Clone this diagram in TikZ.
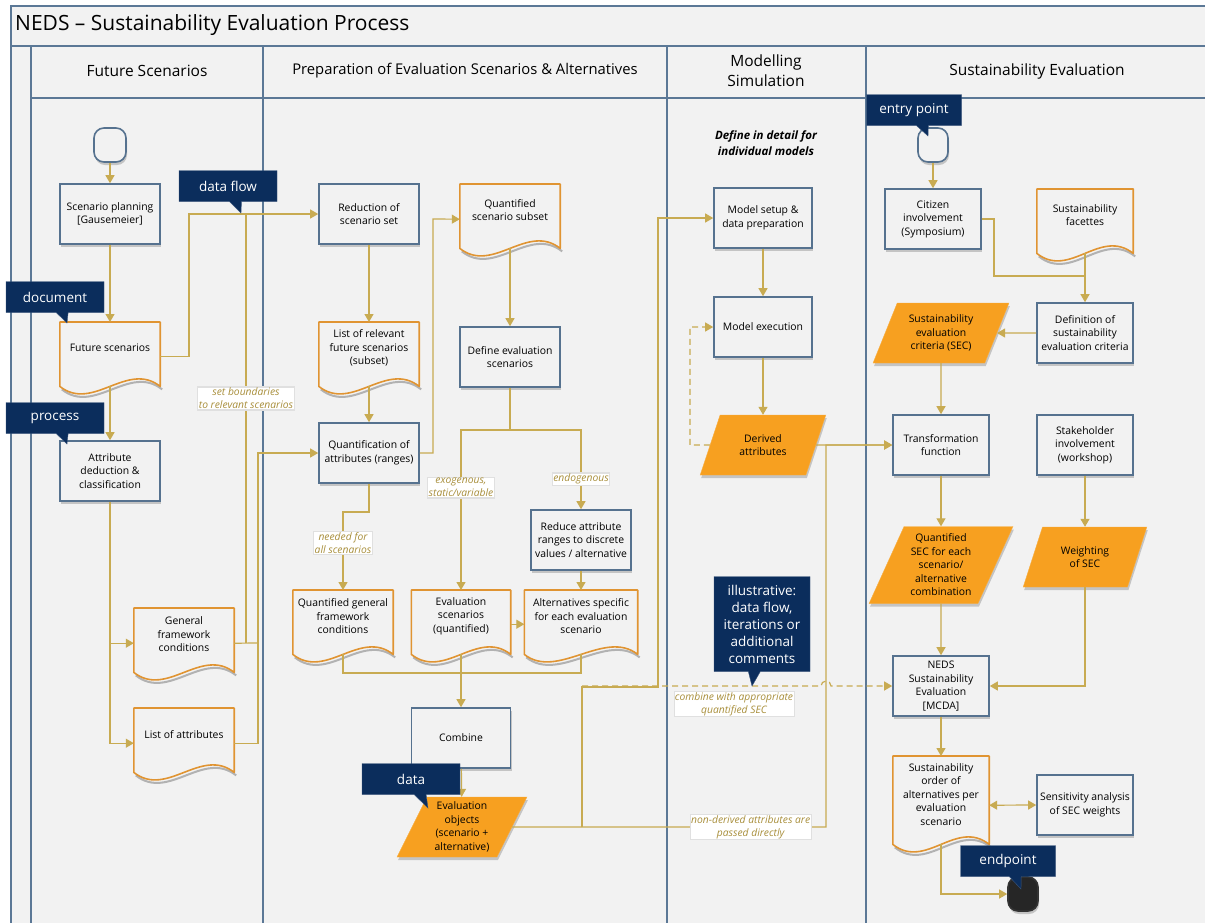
\documentclass[tikz,border=0pt]{standalone}
\usepackage{fontspec}
\setmainfont{Open Sans}
\usetikzlibrary{arrows.meta,positioning,shapes.geometric,shapes.callouts,shadows}

\definecolor{bgc}{HTML}{F2F2F2}
\definecolor{lanec}{HTML}{5B7896}
\definecolor{boxc}{HTML}{56728F}
\definecolor{docc}{HTML}{E09432}
\definecolor{parac}{HTML}{F7A020}
\definecolor{navyc}{HTML}{0B2D5C}
\definecolor{goldc}{HTML}{C8AB52}
\definecolor{labc}{HTML}{A88E3A}

\begin{document}
\begin{tikzpicture}[x=1pt,y=-1pt,>={Triangle[length=8pt,width=9pt]},
  every node/.style={font=\fontsize{10.4}{13.5}\selectfont,align=center,inner sep=2pt},
  lane/.style={draw=lanec,line width=2pt},
  box/.style={rectangle,draw=boxc,line width=1.6pt,fill=bgc,minimum width=98,minimum height=60,
    drop shadow={shadow xshift=1pt,shadow yshift=-3pt,opacity=.4}},
  docu/.style={rectangle,minimum width=#1,minimum height=52,anchor=north},
  docu/.default=100,
  docline/.style={draw=docc,line width=1.6pt,line join=round},
  docshadow/.style={draw=black!30,line width=2pt},
  para/.style={trapezium,trapezium left angle=65,trapezium right angle=115,trapezium stretches=true,
    fill=parac,draw=parac!85!white,minimum width=#1,minimum height=60,
    drop shadow={shadow xshift=1pt,shadow yshift=-3pt,opacity=.4}},
  term/.style={rectangle,rounded corners=10pt,draw=boxc,line width=1.6pt,fill=bgc,minimum width=32,minimum height=34,
    drop shadow={shadow xshift=1pt,shadow yshift=-3pt,opacity=.4}},
  callme/.style={rectangle callout,fill=navyc,draw=navyc!80!white,text=white,font=\fontsize{13.5}{17}\selectfont,
    minimum width=98,minimum height=31,callout pointer width=12pt},
  lbl/.style={fill=white,draw=black!12,text=labc,font=\itshape\fontsize{10.3}{13}\selectfont,inner sep=1pt},
  hdr/.style={font=\fontsize{15.5}{20}\selectfont},
  flow/.style={draw=goldc,line width=1.2pt},
  iter/.style={flow,dash pattern=on 6pt off 4pt}]

\clip (0,0) rectangle (1205,922);
\fill[white] (0,0) rectangle (1205,922);
\fill[bgc] (11,6) rectangle (1215,930);

% swimlanes
\draw[lane] (11,930) -- (11,6) -- (1215,6);
\draw[lane] (11,46) -- (1215,46);
\draw[lane] (31,98) -- (1215,98);
\foreach \x in {31,263,667,866}
  \draw[lane] (\x,46) -- (\x,930);
\node[anchor=west,font=\fontsize{21}{24}\selectfont] (title) at (13,25) {NEDS -- Sustainability Evaluation Process};
\node[hdr] (hfut) at (147,71) {Future Scenarios};
\node[hdr,font=\fontsize{14.8}{20}\selectfont] (hprep) at (465,71) {Preparation of Evaluation Scenarios \& Alternatives};
\node[hdr] (hmod) at (766,71) {Modelling\\Simulation};
\node[hdr] (hsus) at (1037,71) {Sustainability Evaluation};

% future scenarios
\node[term] (start1) at (110,145) {};
\node[box,minimum width=100] (scenplan) at (110,214) {Scenario planning\\{[Gausemeier]}};
\node[docu] (futscen) at (110,322) {Future scenarios};
\node[box,minimum width=100] (attrded) at (110,471) {Attribute\\deduction \&\\classification};
\node[docu] (genfw) at (184,608) {General\\framework\\conditions};
\node[docu] (listattr) at (184,708) {List of attributes};

% preparation
\node[box,minimum width=100] (reduction) at (369,214) {Reduction of\\scenario set};
\node[docu] (listrel) at (369,322) {List of relevant\\future scenarios\\(subset)};
\node[box,minimum width=100] (quantattr) at (369,453) {Quantification of\\attributes (ranges)};
\node[docu] (quantsub) at (510,184) {Quantified\\scenario subset};
\node[box,minimum width=100] (defeval) at (510,357) {Define evaluation\\scenarios};
\node[box,minimum width=100] (reduceattr) at (581,540) {Reduce attribute\\ranges to discrete\\values / alternative};
\node[docu] (qgfc) at (343,590) {Quantified general\\framework\\conditions};
\node[docu=99] (evalscen) at (461,590) {Evaluation\\scenarios\\(quantified)};
\node[docu=113] (altspec) at (581,590) {Alternatives specific\\for each evaluation\\scenario};
\node[box,minimum width=99] (combine) at (461,738) {Combine};
\node[para=130] (evalobj) at (462,827) {Evaluation\\objects\\(scenario +\\alternative)};

% modelling
\node[font=\bfseries\itshape\fontsize{11.5}{16}\selectfont] (mdetail) at (766,143) {Define in detail for\\individual models};
\node[box] (modsetup) at (763,218) {Model setup \&\\data preparation};
\node[box] (modexec) at (763,327) {Model execution};
\node[para=126] (derived) at (763,445) {Derived\\attributes};

% sustainability evaluation
\node[term,minimum width=30] (start2) at (933,145) {};
\node[box,minimum width=96] (citizen) at (933,219) {Citizen\\involvement\\(Symposium)};
\node[docu=96] (facettes) at (1085,189) {Sustainability\\facettes};
\node[box,minimum width=96] (defcrit) at (1085,333) {Definition of\\sustainability\\evaluation criteria};
\node[para=136] (sec) at (941,333) {Sustainability\\evaluation\\criteria (SEC)};
\node[box,minimum width=96] (transf) at (941,445) {Transformation\\function};
\node[box,minimum width=96] (stakeh) at (1085,445) {Stakeholder\\involvement\\(workshop)};
\node[para=144,minimum height=77] (qsec) at (941,565) {Quantified\\SEC for each\\scenario/\\alternative\\combination};
\node[para=124] (weight) at (1085,557) {Weighting\\of SEC};
\node[box,minimum width=96] (mcda) at (941,686) {NEDS\\Sustainability\\Evaluation\\{[MCDA]}};
\node[docu=96,minimum height=76] (order) at (941,756) {Sustainability\\order of\\alternatives per\\evaluation\\scenario};
\node[box,minimum width=96] (sens) at (1085,805) {Sensitivity analysis\\of SEC weights};
\node[term,minimum width=30,fill=black!85,draw=black!80] (endpt) at (1023,894) {};

% document outlines
\foreach \doc in {futscen,genfw,listattr,listrel,quantsub,qgfc,evalscen,altspec,facettes,order}{
  \draw[docshadow] ([xshift=2pt,yshift=-15pt]\doc.south east) .. controls +(-33,-26) and +(33,26) .. ([xshift=2pt,yshift=-15pt]\doc.south west);
  \draw[docline] (\doc.north west) -- (\doc.north east) -- ([yshift=-12pt]\doc.south east)
    .. controls +(-33,-26) and +(33,26) .. ([yshift=-12pt]\doc.south west) -- cycle;
}

% connectors
\draw[flow,->] (start1) -- (scenplan);
\draw[flow,->] (scenplan) -- (futscen);
\draw[flow,->] ([yshift=-12pt]futscen.south) -- (attrded);
\draw[flow,->] ([yshift=-8pt]futscen.east) -| (189,214) -- (reduction.west);
\draw[flow,->] (attrded) |- ([yshift=-9pt]genfw.west);
\draw[flow,->] (attrded) |- ([yshift=-9pt]listattr.west);
\draw[flow] ([yshift=-9pt]genfw.east) -- (258,643);
\draw[flow] (246,643) -- node[lbl,pos=0.57] {set boundaries\\to relevant scenarios} (246,214);
\draw[flow,->] ([yshift=-9pt]listattr.east) -| (258,453) -- (quantattr.west);
\draw[flow,->] (reduction) -- (listrel);
\draw[flow,->] ([yshift=-12pt]listrel.south) -- (quantattr);
\draw[flow,->] (quantattr.east) -| (433,219) -- ([yshift=-9pt]quantsub.west);
\draw[flow,->] ([yshift=-12pt]quantsub.south) -- (defeval);
\draw[flow] (defeval.south) -- (510,430) coordinate (split);
\draw[flow,->] (split) -| node[lbl,pos=0.68] {exogenous,\\static/variable} (evalscen);
\draw[flow,->] (split) -| node[lbl,pos=0.81] {endogenous} (reduceattr);
\draw[flow,->] (quantattr.south) |- (343,512) -- node[lbl,pos=0.4] {needed for\\all scenarios} (qgfc.north);
\draw[flow,->] (reduceattr) -- (altspec);
\draw[flow,->] ([yshift=-8pt]evalscen.east) -- ([yshift=-8pt]altspec.west);
\draw[flow] ([yshift=-12pt]qgfc.south) |- (581,673) -- ([yshift=-12pt]altspec.south);
\draw[flow,->] ([yshift=-12pt]evalscen.south) -- (combine);
\draw[flow,->] (combine) -- (evalobj);
\draw[flow,->] (evalobj.east) -- node[lbl,pos=0.76] {non-derived attributes are\\passed directly} (826,827) |- (transf.west);
\draw[flow,->] (582,827) |- (658,687) |- (modsetup.west);
\draw[iter,->] (582,686) -- (821,686) arc[start angle=180,end angle=360,radius=5] -- (mcda.west);
\node[lbl] (lcomb) at (734,704) {combine with appropriate\\quantified SEC};
\draw[flow,->] (modsetup) -- (modexec);
\draw[flow,->] (modexec) -- (derived);
\draw[iter,->] (derived.west) -- (690,445) |- (modexec.west);
\draw[flow,->] (derived) -- (transf);
\draw[flow,->] (start2) -- (citizen);
\draw[flow,->] (citizen.east) -| (994,276) -| (defcrit.north);
\draw[flow] ([yshift=-12pt]facettes.south) -- (1085,276);
\draw[flow,->] (defcrit) -- (sec);
\draw[flow,->] (sec) -- (transf);
\draw[flow,->] (transf) -- (qsec);
\draw[flow,->] (stakeh) -- (weight);
\draw[flow,->] (qsec) -- (mcda);
\draw[flow,->] (weight) |- (mcda);
\draw[flow,->] (mcda) -- (order);
\draw[flow,<->] ([yshift=-11pt]order.east) -- (sens.west);
\draw[flow,->] ([yshift=-12pt]order.south) |- (endpt);

% callouts
\node[callme,callout absolute pointer={(67,323)}] (cdoc) at (55,297) {document};
\node[callme,callout absolute pointer={(67,444)}] (cproc) at (55,418) {process};
\node[callme,callout absolute pointer={(241,213)}] (cflow) at (228,186) {data flow};
\node[callme,callout absolute pointer={(428,808)}] (cdata) at (411,779) {data};
\node[callme,minimum width=95,callout absolute pointer={(928,136)}] (centry) at (914,110) {entry point};
\node[callme,minimum width=96,minimum height=95,callout absolute pointer={(752,686)}] (cillu) at (762,624) {illustrative:\\data flow,\\iterations or\\additional\\comments};
\node[callme,minimum width=95,callout absolute pointer={(1021,889)}] (cend) at (1008,861) {endpoint};
\end{tikzpicture}
\end{document}
